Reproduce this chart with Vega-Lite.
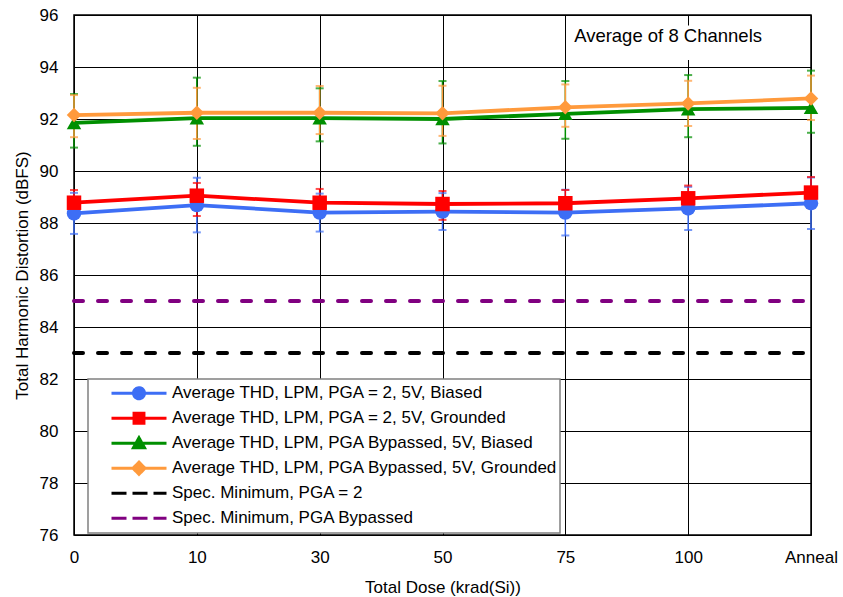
{
  "$schema": "https://vega.github.io/schema/vega-lite/v6.json",
  "width": 737,
  "height": 520,
  "autosize": {"type": "none"},
  "padding": {"left": 74, "top": 15, "right": 32, "bottom": 62},
  "background": "white",
  "config": {
    "font": "Liberation Sans",
    "view": {"stroke": "#000", "strokeWidth": 1.5},
    "axis": {
      "gridColor": "#000", "gridWidth": 1, "gridOpacity": 1,
      "domain": false, "ticks": false,
      "labelFont": "Liberation Sans", "labelFontSize": 17, "labelColor": "#000",
      "titleFont": "Liberation Sans", "titleFontSize": 17, "titleFontWeight": "normal", "titleColor": "#000"
    }
  },
  "datasets": {
    "thd": [
      {"dose": "0", "series": "Average THD, LPM, PGA = 2, 5V, Biased", "value": 88.37, "lo": 87.58, "hi": 89.16},
      {"dose": "10", "series": "Average THD, LPM, PGA = 2, 5V, Biased", "value": 88.69, "lo": 87.64, "hi": 89.74},
      {"dose": "30", "series": "Average THD, LPM, PGA = 2, 5V, Biased", "value": 88.40, "lo": 87.67, "hi": 89.13},
      {"dose": "50", "series": "Average THD, LPM, PGA = 2, 5V, Biased", "value": 88.44, "lo": 87.73, "hi": 89.15},
      {"dose": "75", "series": "Average THD, LPM, PGA = 2, 5V, Biased", "value": 88.40, "lo": 87.52, "hi": 89.28},
      {"dose": "100", "series": "Average THD, LPM, PGA = 2, 5V, Biased", "value": 88.56, "lo": 87.73, "hi": 89.39},
      {"dose": "Anneal", "series": "Average THD, LPM, PGA = 2, 5V, Biased", "value": 88.76, "lo": 87.77, "hi": 89.75},
      {"dose": "0", "series": "Average THD, LPM, PGA = 2, 5V, Grounded", "value": 88.78, "lo": 88.29, "hi": 89.27},
      {"dose": "10", "series": "Average THD, LPM, PGA = 2, 5V, Grounded", "value": 89.05, "lo": 88.27, "hi": 89.54},
      {"dose": "30", "series": "Average THD, LPM, PGA = 2, 5V, Grounded", "value": 88.78, "lo": 88.25, "hi": 89.31},
      {"dose": "50", "series": "Average THD, LPM, PGA = 2, 5V, Grounded", "value": 88.73, "lo": 88.12, "hi": 89.23},
      {"dose": "75", "series": "Average THD, LPM, PGA = 2, 5V, Grounded", "value": 88.76, "lo": 88.25, "hi": 89.27},
      {"dose": "100", "series": "Average THD, LPM, PGA = 2, 5V, Grounded", "value": 88.95, "lo": 88.46, "hi": 89.44},
      {"dose": "Anneal", "series": "Average THD, LPM, PGA = 2, 5V, Grounded", "value": 89.17, "lo": 88.57, "hi": 89.77},
      {"dose": "0", "series": "Average THD, LPM, PGA Bypassed, 5V, Biased", "value": 91.85, "lo": 90.90, "hi": 92.96},
      {"dose": "10", "series": "Average THD, LPM, PGA Bypassed, 5V, Biased", "value": 92.03, "lo": 90.97, "hi": 93.59},
      {"dose": "30", "series": "Average THD, LPM, PGA Bypassed, 5V, Biased", "value": 92.03, "lo": 91.14, "hi": 93.18},
      {"dose": "50", "series": "Average THD, LPM, PGA Bypassed, 5V, Biased", "value": 92.00, "lo": 91.06, "hi": 93.46},
      {"dose": "75", "series": "Average THD, LPM, PGA Bypassed, 5V, Biased", "value": 92.20, "lo": 91.24, "hi": 93.46},
      {"dose": "100", "series": "Average THD, LPM, PGA Bypassed, 5V, Biased", "value": 92.38, "lo": 91.30, "hi": 93.69},
      {"dose": "Anneal", "series": "Average THD, LPM, PGA Bypassed, 5V, Biased", "value": 92.43, "lo": 91.47, "hi": 93.86},
      {"dose": "0", "series": "Average THD, LPM, PGA Bypassed, 5V, Grounded", "value": 92.15, "lo": 91.30, "hi": 92.92},
      {"dose": "10", "series": "Average THD, LPM, PGA Bypassed, 5V, Grounded", "value": 92.24, "lo": 91.23, "hi": 93.20},
      {"dose": "30", "series": "Average THD, LPM, PGA Bypassed, 5V, Grounded", "value": 92.24, "lo": 91.42, "hi": 93.27},
      {"dose": "50", "series": "Average THD, LPM, PGA Bypassed, 5V, Grounded", "value": 92.22, "lo": 91.35, "hi": 93.28},
      {"dose": "75", "series": "Average THD, LPM, PGA Bypassed, 5V, Grounded", "value": 92.45, "lo": 91.70, "hi": 93.33},
      {"dose": "100", "series": "Average THD, LPM, PGA Bypassed, 5V, Grounded", "value": 92.60, "lo": 91.73, "hi": 93.47},
      {"dose": "Anneal", "series": "Average THD, LPM, PGA Bypassed, 5V, Grounded", "value": 92.79, "lo": 91.96, "hi": 93.67}
    ],
    "spec": [
      {"dose": "0", "series": "Spec. Minimum, PGA = 2", "value": 83},
      {"dose": "10", "series": "Spec. Minimum, PGA = 2", "value": 83},
      {"dose": "30", "series": "Spec. Minimum, PGA = 2", "value": 83},
      {"dose": "50", "series": "Spec. Minimum, PGA = 2", "value": 83},
      {"dose": "75", "series": "Spec. Minimum, PGA = 2", "value": 83},
      {"dose": "100", "series": "Spec. Minimum, PGA = 2", "value": 83},
      {"dose": "Anneal", "series": "Spec. Minimum, PGA = 2", "value": 83},
      {"dose": "0", "series": "Spec. Minimum, PGA Bypassed", "value": 85},
      {"dose": "10", "series": "Spec. Minimum, PGA Bypassed", "value": 85},
      {"dose": "30", "series": "Spec. Minimum, PGA Bypassed", "value": 85},
      {"dose": "50", "series": "Spec. Minimum, PGA Bypassed", "value": 85},
      {"dose": "75", "series": "Spec. Minimum, PGA Bypassed", "value": 85},
      {"dose": "100", "series": "Spec. Minimum, PGA Bypassed", "value": 85},
      {"dose": "Anneal", "series": "Spec. Minimum, PGA Bypassed", "value": 85}
    ],
    "note": [
      {"dose": "Anneal", "value": 95.2, "label": "Average of 8 Channels"}
    ]
  },
  "layer": [
    {
      "data": {"name": "spec"},
      "mark": {"type": "line", "strokeWidth": 4, "strokeDash": [9, 15], "strokeCap": "round"},
      "encoding": {
        "x": {"field": "dose", "type": "ordinal", "title": "Total Dose (krad(Si))",
          "scale": {"type": "point", "padding": 0, "domain": ["0", "10", "30", "50", "75", "100", "Anneal"]},
          "axis": {"labelAngle": 0, "labelPadding": 14, "titlePadding": 14, "grid": true}},
        "y": {"field": "value", "type": "quantitative", "title": "Total Harmonic Distortion (dBFS)",
          "scale": {"domain": [76, 96], "nice": false, "zero": false},
          "axis": {"values": [76, 78, 80, 82, 84, 86, 88, 90, 92, 94, 96], "labelPadding": 16, "titlePadding": 8}},
        "color": {"field": "series", "type": "nominal",
          "scale": {
            "domain": [
              "Average THD, LPM, PGA = 2, 5V, Biased",
              "Average THD, LPM, PGA = 2, 5V, Grounded",
              "Average THD, LPM, PGA Bypassed, 5V, Biased",
              "Average THD, LPM, PGA Bypassed, 5V, Grounded",
              "Spec. Minimum, PGA = 2",
              "Spec. Minimum, PGA Bypassed"
            ],
            "range": ["#3d6ef5", "#ff0000", "#008f00", "#ff9a3c", "#000000", "#800080"]
          },
          "legend": {
            "orient": "none", "legendX": 14, "legendY": 364, "direction": "vertical",
            "title": null, "fillColor": "#ffffff", "strokeColor": "#808080",
            "padding": 2, "clipHeight": 24.5, "rowPadding": 0,
            "symbolSize": 3025, "symbolStrokeWidth": 3, "symbolOffset": 20, "labelOffset": 4,
            "labelFont": "Liberation Sans", "labelFontSize": 17, "labelColor": "#000", "labelLimit": 0,
            "encode": {
              "legend": {"update": {"strokeWidth": {"value": 1.5}}},
              "symbols": {
                "update": {
                  "shape": {"signal": "datum.value === 'Average THD, LPM, PGA = 2, 5V, Biased' ? 'M-1,0H1M-0.2,0A0.2,0.2 0 1,0 0.2,0A0.2,0.2 0 1,0 -0.2,0Z' : datum.value === 'Average THD, LPM, PGA = 2, 5V, Grounded' ? 'M-1,0H1M-0.18,-0.18H0.18V0.18H-0.18Z' : datum.value === 'Average THD, LPM, PGA Bypassed, 5V, Biased' ? 'M-1,0H1M0,-0.2L0.2,0.16H-0.2Z' : datum.value === 'Average THD, LPM, PGA Bypassed, 5V, Grounded' ? 'M-1,0H1M0,-0.22L0.22,0L0,0.22L-0.22,0Z' : 'M-1,0H1'"},
                  "fill": {"scale": "color", "field": "value"},
                  "stroke": {"scale": "color", "field": "value"},
                  "strokeWidth": {"value": 3},
                  "opacity": {"value": 1},
                  "strokeDash": [
                    {"test": "indexof(datum.value, 'Spec.') === 0", "value": [15, 6]},
                    {"value": [1, 0]}
                  ]
                }
              }
            }
          }
        }
      }
    },
    {
      "data": {"name": "thd"},
      "mark": {"type": "rule", "strokeWidth": 1.5},
      "encoding": {
        "x": {"field": "dose", "type": "ordinal"},
        "y": {"field": "lo", "type": "quantitative", "title": "Total Harmonic Distortion (dBFS)"},
        "y2": {"field": "hi"},
        "color": {"field": "series", "type": "nominal"}
      }
    },
    {
      "data": {"name": "thd"},
      "mark": {"type": "tick", "size": 8, "thickness": 2, "orient": "horizontal"},
      "encoding": {
        "x": {"field": "dose", "type": "ordinal"},
        "y": {"field": "lo", "type": "quantitative", "title": "Total Harmonic Distortion (dBFS)"},
        "color": {"field": "series", "type": "nominal"}
      }
    },
    {
      "data": {"name": "thd"},
      "mark": {"type": "tick", "size": 8, "thickness": 2, "orient": "horizontal"},
      "encoding": {
        "x": {"field": "dose", "type": "ordinal"},
        "y": {"field": "hi", "type": "quantitative", "title": "Total Harmonic Distortion (dBFS)"},
        "color": {"field": "series", "type": "nominal"}
      }
    },
    {
      "data": {"name": "thd"},
      "mark": {"type": "line", "strokeWidth": 3.8},
      "encoding": {
        "x": {"field": "dose", "type": "ordinal"},
        "y": {"field": "value", "type": "quantitative", "title": "Total Harmonic Distortion (dBFS)"},
        "color": {"field": "series", "type": "nominal"}
      }
    },
    {
      "data": {"name": "thd"},
      "mark": {"type": "point", "filled": true, "opacity": 1, "size": 210},
      "encoding": {
        "x": {"field": "dose", "type": "ordinal"},
        "y": {"field": "value", "type": "quantitative", "title": "Total Harmonic Distortion (dBFS)"},
        "color": {"field": "series", "type": "nominal"},
        "shape": {"field": "series", "type": "nominal", "legend": null,
          "scale": {
            "domain": [
              "Average THD, LPM, PGA = 2, 5V, Biased",
              "Average THD, LPM, PGA = 2, 5V, Grounded",
              "Average THD, LPM, PGA Bypassed, 5V, Biased",
              "Average THD, LPM, PGA Bypassed, 5V, Grounded"
            ],
            "range": ["circle", "square", "triangle-up", "diamond"]
          }
        }
      }
    },
    {
      "data": {"name": "note"},
      "mark": {"type": "rect", "fill": "#ffffff", "xOffset": 3, "x2Offset": -3},
      "encoding": {
        "x": {"datum": "75", "type": "ordinal"},
        "x2": {"datum": "Anneal"},
        "y": {"datum": 94.27, "type": "quantitative"},
        "y2": {"datum": 95.6}
      }
    },
    {
      "data": {"name": "note"},
      "mark": {"type": "text", "align": "right", "baseline": "middle", "dx": -49, "fontSize": 18.5, "font": "Liberation Sans", "color": "#000"},
      "encoding": {
        "x": {"field": "dose", "type": "ordinal"},
        "y": {"field": "value", "type": "quantitative", "title": "Total Harmonic Distortion (dBFS)"},
        "text": {"field": "label"}
      }
    }
  ]
}
